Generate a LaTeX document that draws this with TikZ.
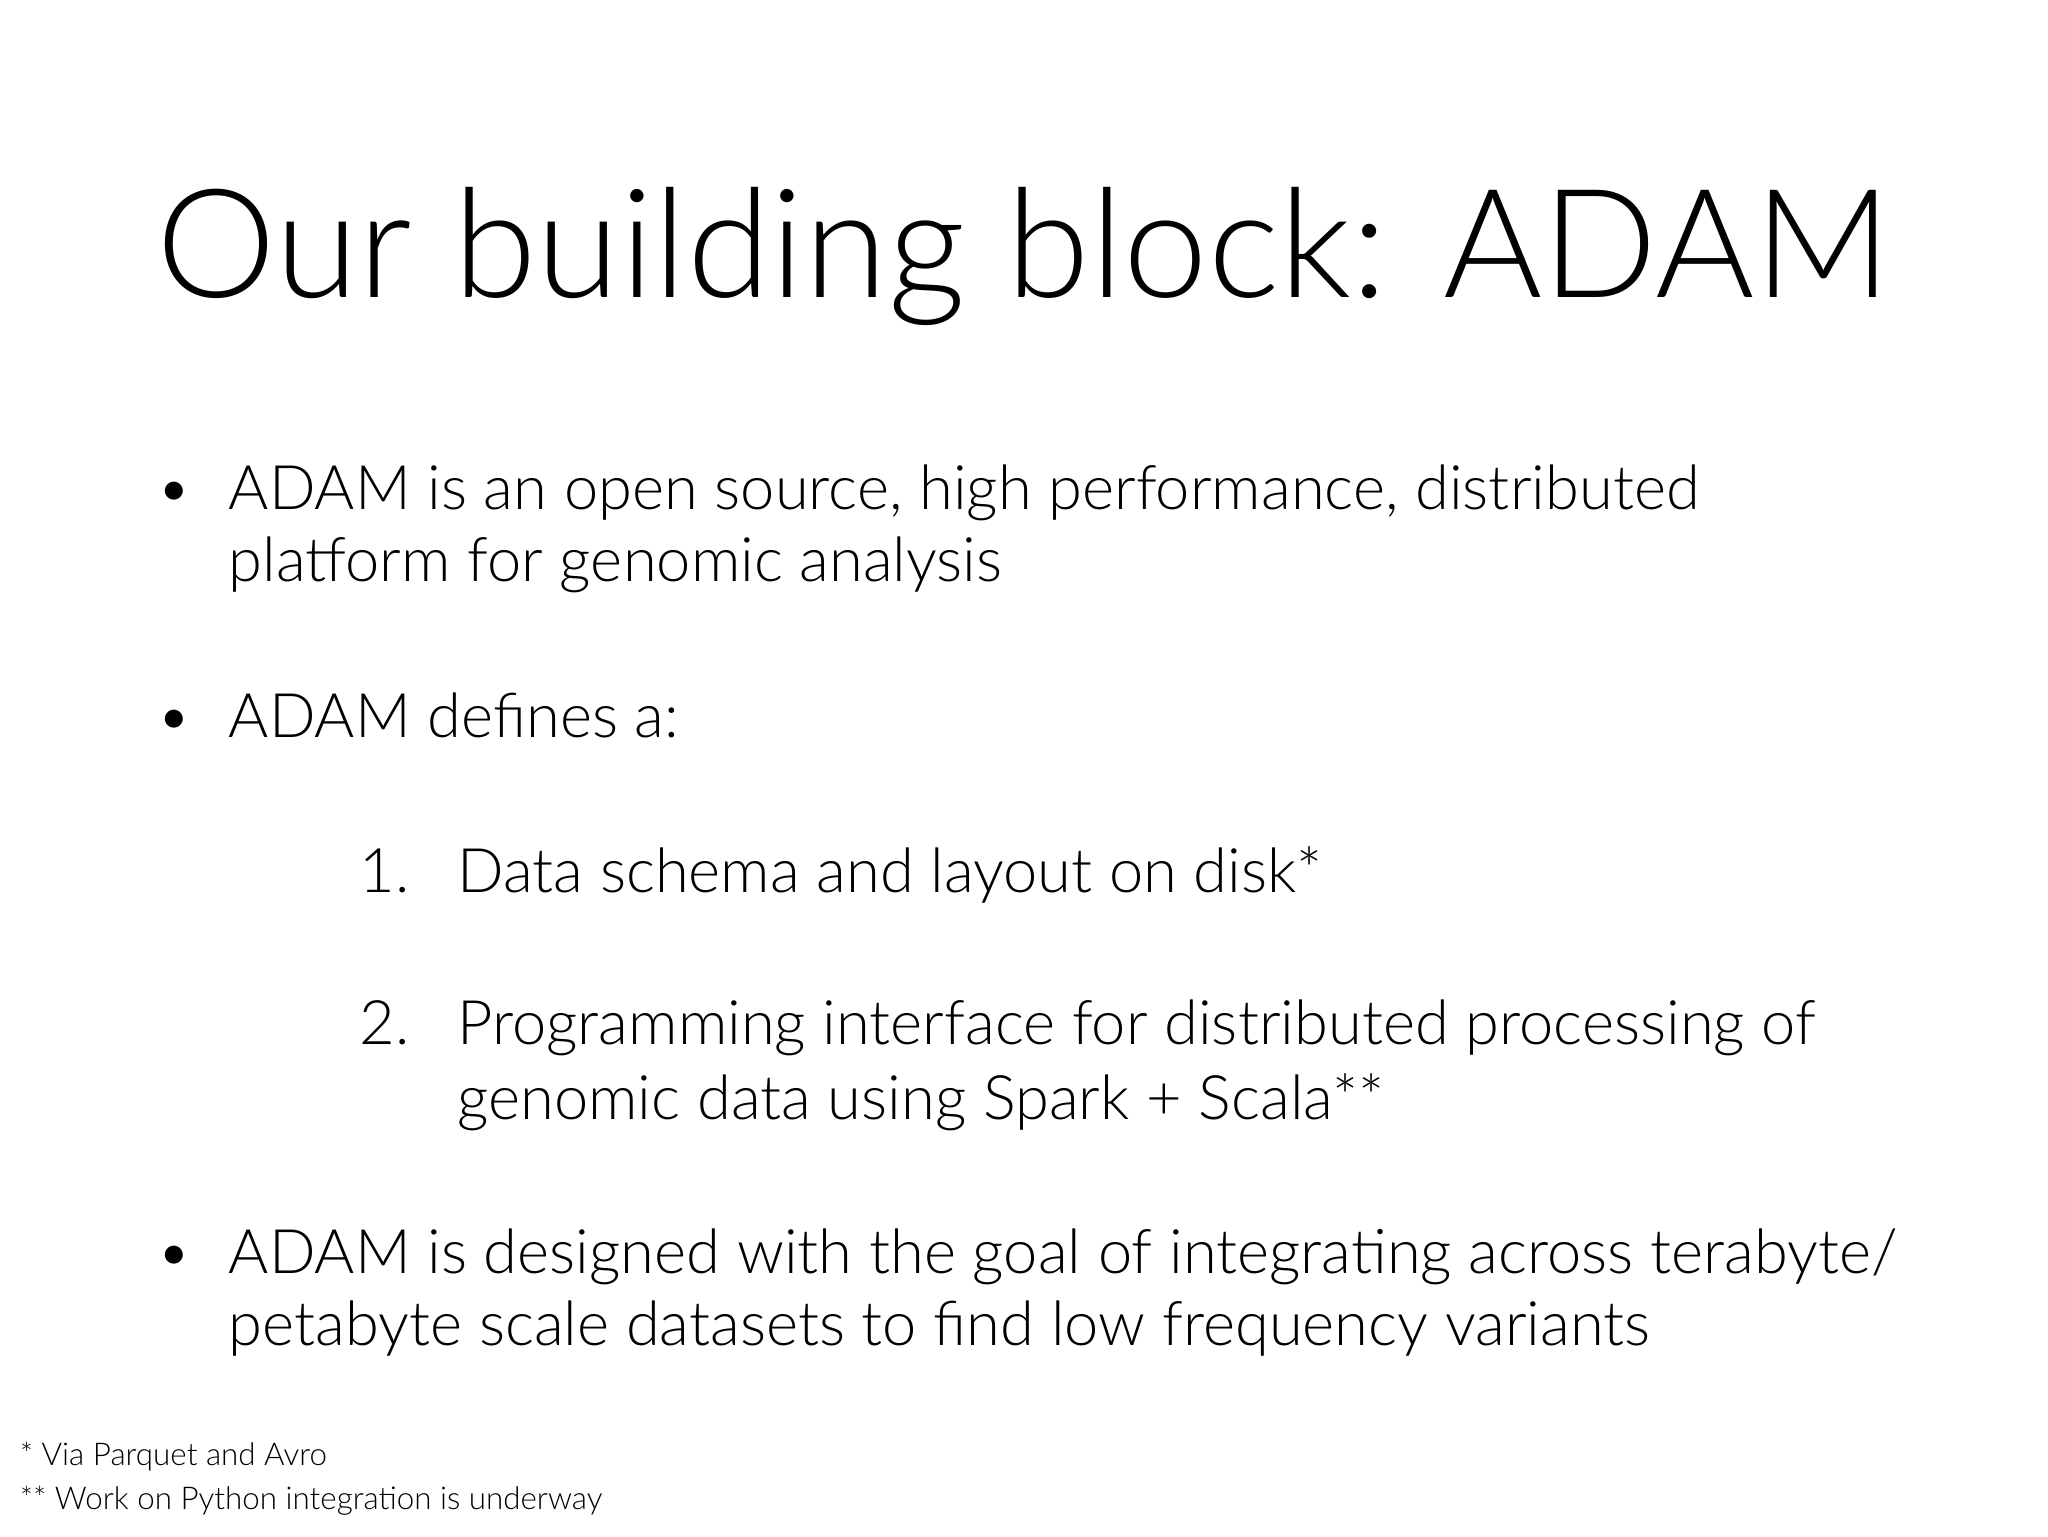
\documentclass[tikz,border=0pt]{standalone}
\usepackage{fontspec}
\setmainfont{Lato}[UprightFont=* Light]
\begin{document}
\begin{tikzpicture}[x=1pt,y=-1pt,
  body/.style={anchor=base west,inner sep=0pt,font=\fontsize{47}{56}\selectfont},
  foot/.style={anchor=base west,inner sep=0pt,font=\fontsize{24}{28}\selectfont}]
\useasboundingbox (0,0) rectangle (1568,1176);
\node[anchor=base,inner sep=0pt,font=\fontsize{116}{130}\selectfont] (title) at (784,228) {Our building block: ADAM};
\node[body] (b1) at (120,390) {•};
\node[body] (t1a) at (175,390) {ADAM is an open source, high performance, distributed};
\node[body] (t1b) at (175,445) {platform for genomic analysis};
\node[body] (b2) at (120,565) {•};
\node[body] (t2) at (175,565) {ADAM defines a:};
\node[body] (n1) at (275,683) {1.};
\node[body] (l1) at (350,683) {Data schema and layout on disk*};
\node[body] (n2) at (275,800) {2.};
\node[body] (l2a) at (350,800) {Programming interface for distributed processing of};
\node[body] (l2b) at (350,857) {genomic data using Spark + Scala**};
\node[body] (b3) at (120,975) {•};
\node[body] (t3a) at (175,975) {ADAM is designed with the goal of integrating across terabyte/};
\node[body] (t3b) at (175,1030) {petabyte scale datasets to find low frequency variants};
\node[foot] (f1) at (15,1122) {* Via Parquet and Avro};
\node[foot] (f2) at (15,1156) {** Work on Python integration is underway};
\end{tikzpicture}
\end{document}
